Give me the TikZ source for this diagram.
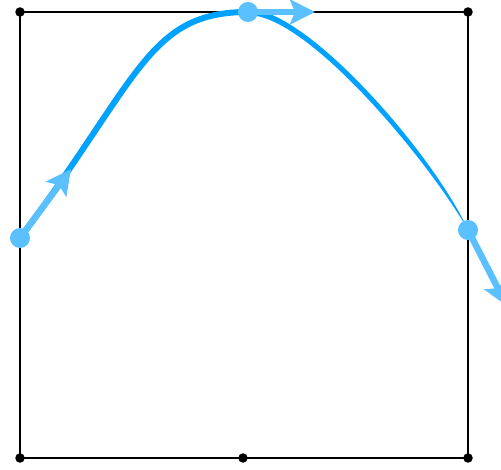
\documentclass[tikz,border=0pt]{standalone}
\usetikzlibrary{arrows.meta,positioning,calc}
\definecolor{AzulCurva}{RGB}{0,162,255}
\definecolor{AzulClaro}{RGB}{90,192,255}
\tikzset{
  marco/.style={draw=black, line width=2.3pt},
  vertice/.style={circle, fill=black, inner sep=0pt, minimum size=9.5pt},
  punto/.style={circle, fill=AzulClaro, inner sep=0pt, minimum size=20pt},
  tangente/.style={-{Stealth[length=25pt, width=25pt, inset=5pt]}, line width=6.5pt, AzulClaro},
  curva/.style={AzulCurva, line width=6pt},
}

\begin{document}
\begin{tikzpicture}[x=1pt, y=-1pt]
    \useasboundingbox (0,0) rectangle (501,470);
    % marco y vertices
    \node[vertice] (ns) at (20,12) {};
    \node[vertice] (ne) at (468,12) {};
    \node[vertice] (so) at (20,458) {};
    \node[vertice] (se) at (468,458) {};
    \node[vertice] (sm) at (243,458) {};
    \draw[marco] (ns.center) -- (ne.center) -- (se.center) -- (so.center) -- cycle;
    % curva
    \coordinate (a1) at (140,78);
    \coordinate (a2) at (148,12);
    \draw[curva] (20,238) .. controls (a1) and (a2) .. (248,12);
    \fill[AzulCurva] (248,9) .. controls (308,9) and (435,156.5) .. (468,230)
      .. controls (429,161.5) and (308,15) .. (248,15) -- cycle;
    % tangentes
    \node[punto] (p0) at (20,238) {};
    \node[punto] (p1) at (248,12) {};
    \node[punto] (p2) at (468,230) {};
    \coordinate (t0) at (71,169);
    \coordinate (t1) at (315,12);
    \coordinate (t2) at (507,306);
    \draw[tangente] (p0.center) -- (t0);
    \draw[tangente] (p1.center) -- (t1);
    \draw[tangente] (p2.center) -- (t2);
\end{tikzpicture}
\end{document}
